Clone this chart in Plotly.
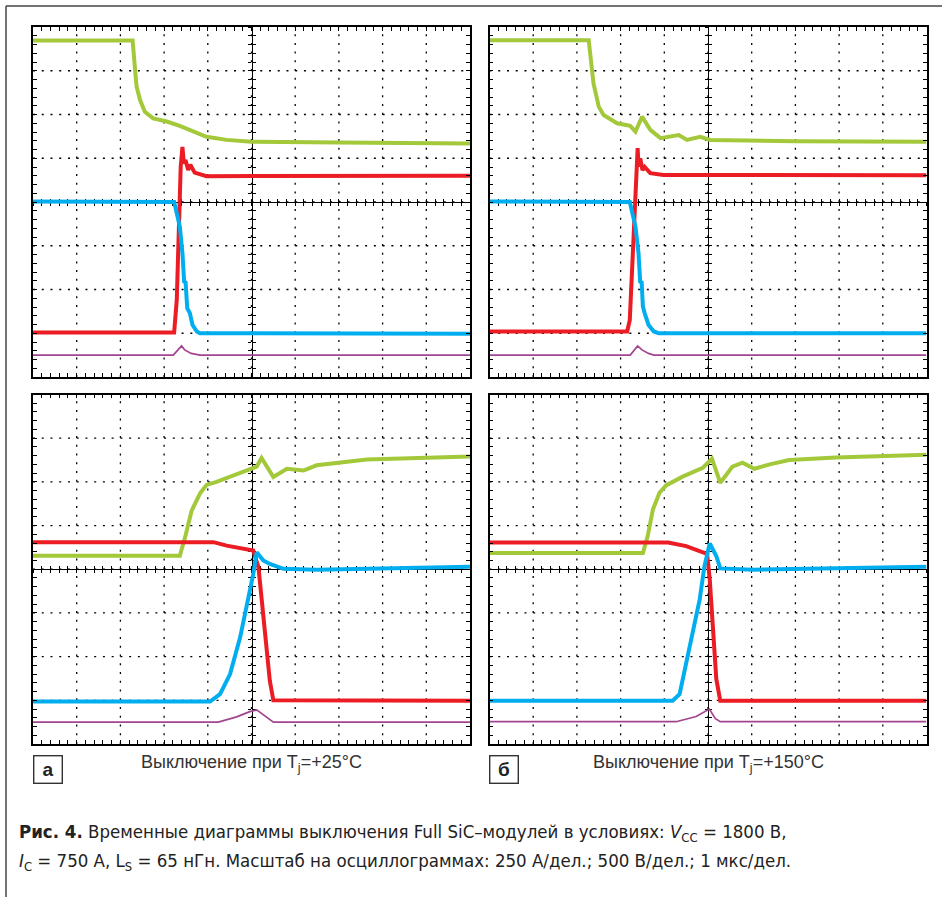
import plotly.graph_objects as go

# ---------------- data (time in µs, 1 µs/div; level in divisions) ----------------
# panel "а", upper screen
a_top_green_t = [0, 2.28, 2.33, 2.37, 2.45, 2.56, 2.75, 3.06, 3.36, 3.67, 3.97, 4.43, 5.0, 7.0, 10]
a_top_green_y = [7.69, 7.69, 7.09, 6.64, 6.33, 6.06, 5.91, 5.84, 5.74, 5.61, 5.49, 5.42, 5.38, 5.36, 5.34]
a_top_red_t = [0, 3.23, 3.29, 3.34, 3.38, 3.42, 3.45, 3.49, 3.55, 3.60, 3.70, 3.97, 10]
a_top_red_y = [1.02, 1.02, 1.76, 3.66, 4.81, 5.26, 4.88, 4.96, 4.73, 4.85, 4.67, 4.59, 4.60]
a_top_blue_t = [0, 3.23, 3.29, 3.36, 3.42, 3.46, 3.49, 3.53, 3.59, 3.65, 3.75, 3.82, 10]
a_top_blue_y = [4.01, 4.00, 3.74, 3.44, 2.83, 2.15, 2.19, 1.57, 1.46, 1.19, 1.04, 1.00, 0.99]
a_top_purple_t = [0, 3.21, 3.40, 3.47, 3.62, 3.82, 10]
a_top_purple_y = [0.50, 0.50, 0.71, 0.62, 0.54, 0.50, 0.50]

# panel "б", upper screen
b_top_green_t = [0, 2.27, 2.38, 2.50, 2.61, 2.92, 3.22, 3.34, 3.49, 3.68, 3.91, 4.33, 4.52, 4.82, 5.05, 7.0, 10]
b_top_green_y = [7.70, 7.70, 6.71, 6.18, 5.99, 5.80, 5.74, 5.61, 5.95, 5.65, 5.46, 5.53, 5.42, 5.49, 5.42, 5.39, 5.38]
b_top_red_t = [0, 3.15, 3.21, 3.27, 3.32, 3.36, 3.39, 3.41, 3.45, 3.50, 3.55, 3.68, 3.98, 10]
b_top_red_y = [1.04, 1.04, 1.30, 2.52, 3.89, 4.81, 5.23, 4.81, 5.00, 4.73, 4.80, 4.66, 4.62, 4.61]
b_top_blue_t = [0, 3.21, 3.27, 3.34, 3.41, 3.45, 3.48, 3.51, 3.55, 3.64, 3.76, 3.87, 10]
b_top_blue_y = [4.01, 4.00, 3.74, 3.44, 2.83, 2.15, 2.19, 1.61, 1.46, 1.19, 1.04, 1.00, 1.00]
b_top_purple_t = [0, 3.22, 3.39, 3.49, 3.64, 3.76, 10]
b_top_purple_y = [0.50, 0.50, 0.71, 0.62, 0.54, 0.50, 0.50]

# panel "а", lower screen
a_bot_green_t = [0, 3.36, 3.48, 3.63, 3.82, 3.97, 4.20, 4.58, 4.96, 5.12, 5.23, 5.50, 5.81, 6.19, 6.49, 7.64, 10]
a_bot_green_y = [4.31, 4.31, 4.73, 5.34, 5.73, 5.93, 6.00, 6.15, 6.31, 6.35, 6.55, 6.11, 6.30, 6.26, 6.38, 6.51, 6.58]
a_bot_red_t = [0, 4.13, 4.43, 5.04, 5.16, 5.27, 5.42, 5.50, 10]
a_bot_red_y = [4.62, 4.62, 4.54, 4.43, 4.04, 2.97, 1.44, 1.00, 0.99]
a_bot_blue_t = [0, 4.05, 4.28, 4.51, 4.74, 4.89, 5.04, 5.12, 5.27, 5.42, 5.73, 6.49, 10]
a_bot_blue_y = [0.97, 0.97, 1.14, 1.60, 2.44, 3.13, 3.89, 4.39, 4.20, 4.12, 4.01, 3.99, 4.06]
a_bot_purple_t = [0, 4.24, 4.66, 4.96, 5.12, 5.35, 5.50, 10]
a_bot_purple_y = [0.50, 0.50, 0.62, 0.74, 0.78, 0.60, 0.50, 0.50]

# panel "б", lower screen
b_bot_green_t = [0, 3.51, 3.62, 3.74, 3.89, 4.04, 4.42, 4.88, 5.09, 5.28, 5.56, 5.79, 6.06, 6.41, 6.86, 7.93, 10]
b_bot_green_y = [4.37, 4.37, 4.76, 5.37, 5.75, 5.92, 6.12, 6.32, 6.53, 5.98, 6.35, 6.44, 6.30, 6.40, 6.50, 6.56, 6.62]
b_bot_red_t = [0, 4.09, 4.50, 4.88, 4.98, 5.04, 5.11, 5.19, 5.28, 10]
b_bot_red_y = [4.61, 4.61, 4.53, 4.40, 4.35, 3.77, 2.63, 1.49, 0.99, 0.99]
b_bot_blue_t = [0, 4.19, 4.35, 4.50, 4.65, 4.81, 4.92, 5.04, 5.19, 5.28, 6.03, 10]
b_bot_blue_y = [0.99, 0.99, 1.14, 1.87, 2.55, 3.31, 4.08, 4.59, 4.30, 4.02, 3.99, 4.06]
b_bot_purple_t = [0, 4.27, 4.73, 5.03, 5.17, 5.28, 10]
b_bot_purple_y = [0.51, 0.51, 0.63, 0.80, 0.58, 0.51, 0.51]

panel_labels = ["а", "б"]
panel_titles = ["Выключение при T<sub>j</sub>=+25°C", "Выключение при T<sub>j</sub>=+150°C"]
caption_1 = ("<b>Рис. 4.</b> Временные диаграммы выключения Full SiC–модулей в условиях: "
             "<i>V</i><sub>CC</sub> = 1800 В,")
caption_2 = ("<i>I</i><sub>C</sub> = 750 А, L<sub>S</sub> = 65 нГн. Масштаб на осциллограммах: "
             "250 А/дел.; 500 В/дел.; 1 мкс/дел.")

# ---------------- layout ----------------
W, H = 942, 897
GREEN, RED, BLUE, PURPLE = "#a3c83a", "#ec1c24", "#00aeef", "#a2458e"
X_DIVS, Y_DIVS = 10, 8

def px_x(p):
    return p / W

def px_y(p):
    return 1 - p / H

panels = [
    dict(x0=33, x1=470, y0=27, y1=377,
         series=[(a_top_green_t, a_top_green_y, GREEN), (a_top_red_t, a_top_red_y, RED),
                 (a_top_blue_t, a_top_blue_y, BLUE), (a_top_purple_t, a_top_purple_y, PURPLE)]),
    dict(x0=489.5, x1=926.5, y0=27, y1=377,
         series=[(b_top_green_t, b_top_green_y, GREEN), (b_top_red_t, b_top_red_y, RED),
                 (b_top_blue_t, b_top_blue_y, BLUE), (b_top_purple_t, b_top_purple_y, PURPLE)]),
    dict(x0=33, x1=470, y0=394.5, y1=744,
         series=[(a_bot_green_t, a_bot_green_y, GREEN), (a_bot_red_t, a_bot_red_y, RED),
                 (a_bot_blue_t, a_bot_blue_y, BLUE), (a_bot_purple_t, a_bot_purple_y, PURPLE)]),
    dict(x0=489.5, x1=926.5, y0=394.5, y1=744,
         series=[(b_bot_green_t, b_bot_green_y, GREEN), (b_bot_red_t, b_bot_red_y, RED),
                 (b_bot_blue_t, b_bot_blue_y, BLUE), (b_bot_purple_t, b_bot_purple_y, PURPLE)]),
]

fig = go.Figure()
layout = dict(width=W, height=H, margin=dict(l=0, r=0, t=0, b=0),
              paper_bgcolor="white", plot_bgcolor="white", showlegend=False)
shapes = []
GRID_DASH = "2px,6.74px"

next_id = 5
for i, p in enumerate(panels, start=1):
    xd = [px_x(p["x0"]), px_x(p["x1"])]
    yd = [px_y(p["y1"]), px_y(p["y0"])]
    common = dict(showticklabels=False, zeroline=False, fixedrange=True,
                  tickcolor="black", tickwidth=1, showgrid=False)
    layout[f"xaxis{i}"] = dict(domain=xd, anchor=f"y{i}", range=[0, X_DIVS], dtick=1, tick0=0,
                               ticks="inside", ticklen=4,
                               minor=dict(dtick=0.2, tick0=0, ticks="inside", ticklen=3,
                                          tickcolor="black", showgrid=False),
                               showline=True, linewidth=1.6, linecolor="black",
                               mirror="allticks", **common)
    layout[f"yaxis{i}"] = dict(domain=yd, anchor=f"x{i}", range=[0, Y_DIVS], dtick=1, tick0=0,
                               ticks="inside", ticklen=4,
                               minor=dict(dtick=0.2, tick0=0, ticks="inside", ticklen=3,
                                          tickcolor="black", showgrid=False),
                               showline=True, linewidth=1.6, linecolor="black",
                               mirror="allticks", **common)
    # dotted graticule
    for k in range(1, X_DIVS):
        shapes.append(dict(type="line", xref=f"x{i}", yref=f"y{i}", x0=k, x1=k, y0=0, y1=Y_DIVS,
                           line=dict(color="black", width=1.3, dash=GRID_DASH), layer="below"))
    for k in range(1, Y_DIVS):
        shapes.append(dict(type="line", xref=f"x{i}", yref=f"y{i}", x0=0, x1=X_DIVS, y0=k, y1=k,
                           line=dict(color="black", width=1.3, dash=GRID_DASH), layer="below"))
    cy = (yd[0] + yd[1]) / 2
    cx = (xd[0] + xd[1]) / 2
    # centre cross-hair with ticks on both sides
    for tickdir, line in (("outside", True), ("inside", False)):
        xk = next_id
        layout[f"xaxis{xk}"] = dict(domain=xd, overlaying=f"x{i}", anchor="free", position=cy,
                                    range=[0, X_DIVS], dtick=0.2, tick0=0, ticks=tickdir, ticklen=3,
                                    showline=line, linewidth=1.4, linecolor="black",
                                    layer="below traces", **common)
        fig.add_trace(go.Scatter(x=[None], y=[None], xaxis=f"x{xk}", yaxis=f"y{i}",
                                 hoverinfo="skip"))
        layout[f"yaxis{xk}"] = dict(domain=yd, overlaying=f"y{i}", anchor="free", position=cx,
                                    range=[0, Y_DIVS], dtick=0.2, tick0=0, ticks=tickdir, ticklen=3,
                                    showline=line, linewidth=1.4, linecolor="black",
                                    layer="below traces", **common)
        fig.add_trace(go.Scatter(x=[None], y=[None], xaxis=f"x{i}", yaxis=f"y{xk}",
                                 hoverinfo="skip"))
        next_id += 1
    for t, v, col in p["series"]:
        w = 1.7 if col == PURPLE else 4
        fig.add_trace(go.Scatter(x=t, y=v, mode="lines", xaxis=f"x{i}", yaxis=f"y{i}",
                                 line=dict(color=col, width=w), hoverinfo="skip"))

# outer frame (left and top edges of the figure box)
shapes.append(dict(type="line", xref="paper", yref="paper", x0=px_x(6), x1=1, y0=px_y(6), y1=px_y(6),
                   line=dict(color="#444", width=1.5)))
shapes.append(dict(type="line", xref="paper", yref="paper", x0=px_x(6), x1=px_x(6), y0=px_y(6), y1=0,
                   line=dict(color="#444", width=1.5)))
layout["shapes"] = shapes
fig.update_layout(**layout)

# panel labels and titles
for k, (lab, title) in enumerate(zip(panel_labels, panel_titles)):
    p = panels[2 + k]
    fig.add_annotation(x=px_x(p["x0"] + 14.5), y=px_y(769), xref="paper", yref="paper",
                       text=f"<b>{lab}</b>", showarrow=False,
                       font=dict(family="Liberation Sans, Arial", size=19, color="#222"),
                       bordercolor="#333", borderwidth=1.4, borderpad=0,
                       width=27, height=26, xanchor="center", yanchor="middle",
                       bgcolor="white")
    fig.add_annotation(x=px_x((p["x0"] + p["x1"]) / 2), y=px_y(750), xref="paper", yref="paper",
                       text=title, showarrow=False, xanchor="center", yanchor="top",
                       font=dict(family="Liberation Sans, Arial", size=18, color="#333"))

cap_font = dict(family="Liberation Sans Narrow, DejaVu Sans Condensed, Roboto Condensed, Roboto, sans-serif",
                size=18.5, color="#222")
fig.add_annotation(x=px_x(17), y=px_y(833), xref="paper", yref="paper", text=caption_1,
                   showarrow=False, xanchor="left", yanchor="middle", font=cap_font)
fig.add_annotation(x=px_x(17), y=px_y(862), xref="paper", yref="paper", text=caption_2,
                   showarrow=False, xanchor="left", yanchor="middle", font=cap_font)

fig.write_html("out.html")
